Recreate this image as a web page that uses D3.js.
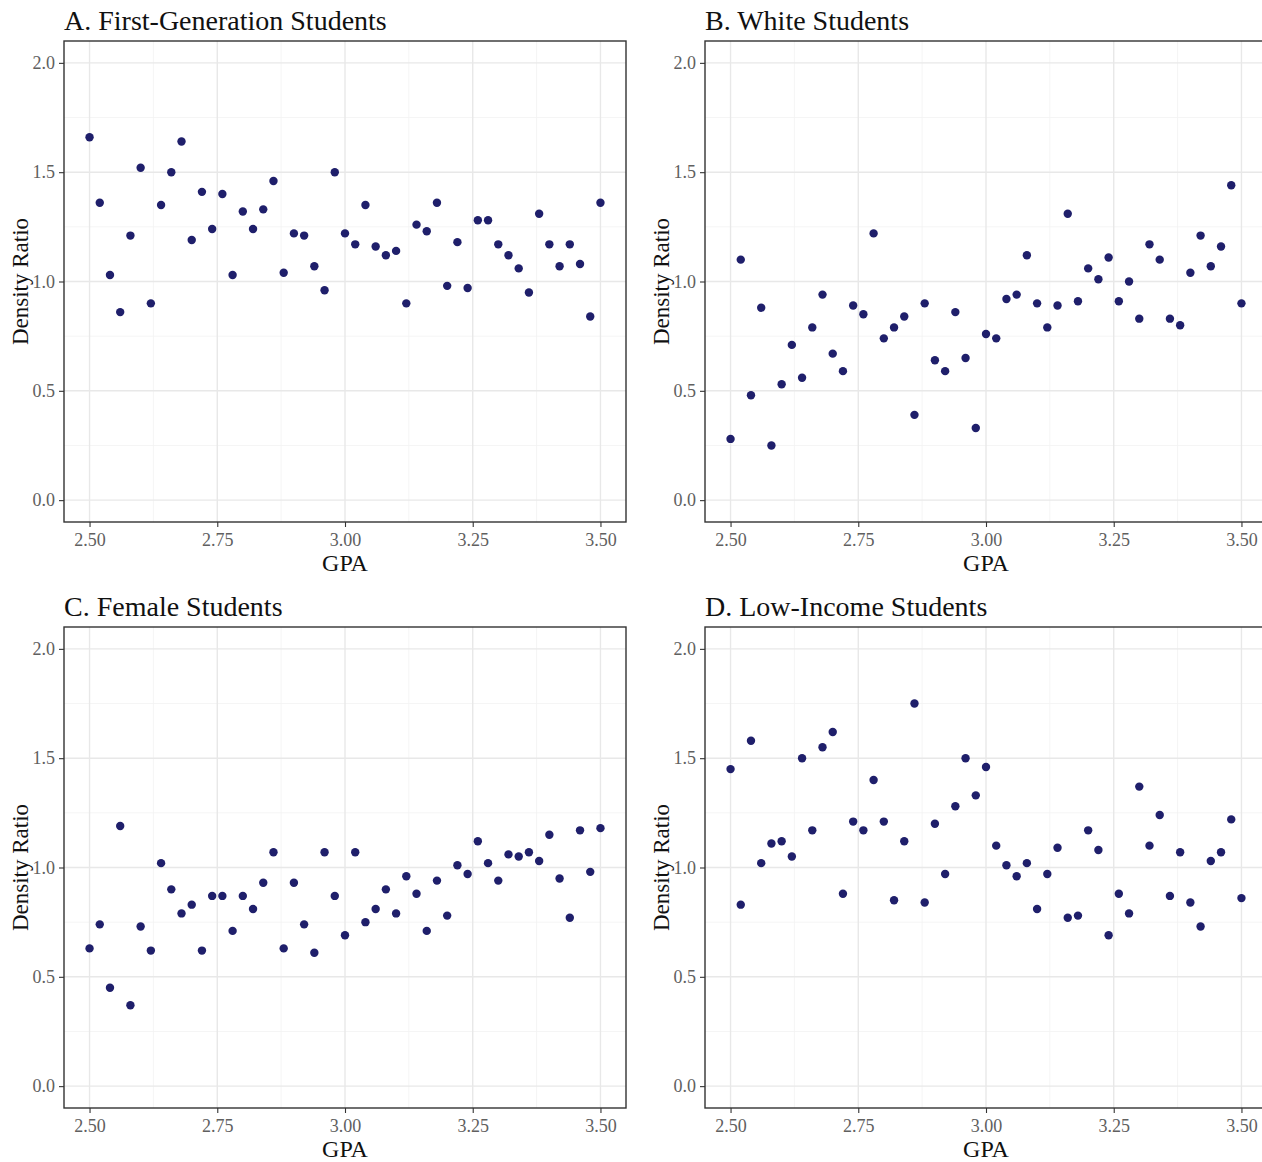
<!DOCTYPE html>
<html>
<head>
<meta charset="utf-8">
<script src="https://cdn.jsdelivr.net/npm/d3@7/dist/d3.min.js"></script>
<style>
body { margin: 0; background: #fff; }
</style>
</head>
<body>
<script>
// GPA bins (x values shared by every panel)
var gpa = [2.50, 2.52, 2.54, 2.56, 2.58, 2.60, 2.62, 2.64, 2.66, 2.68,
           2.70, 2.72, 2.74, 2.76, 2.78, 2.80, 2.82, 2.84, 2.86, 2.88,
           2.90, 2.92, 2.94, 2.96, 2.98, 3.00, 3.02, 3.04, 3.06, 3.08,
           3.10, 3.12, 3.14, 3.16, 3.18, 3.20, 3.22, 3.24, 3.26, 3.28,
           3.30, 3.32, 3.34, 3.36, 3.38, 3.40, 3.42, 3.44, 3.46, 3.48, 3.50];

var firstGen = [1.66, 1.36, 1.03, 0.86, 1.21, 1.52, 0.90, 1.35, 1.50, 1.64,
                1.19, 1.41, 1.24, 1.40, 1.03, 1.32, 1.24, 1.33, 1.46, 1.04,
                1.22, 1.21, 1.07, 0.96, 1.50, 1.22, 1.17, 1.35, 1.16, 1.12,
                1.14, 0.90, 1.26, 1.23, 1.36, 0.98, 1.18, 0.97, 1.28, 1.28,
                1.17, 1.12, 1.06, 0.95, 1.31, 1.17, 1.07, 1.17, 1.08, 0.84, 1.36];

var white = [0.28, 1.10, 0.48, 0.88, 0.25, 0.53, 0.71, 0.56, 0.79, 0.94,
             0.67, 0.59, 0.89, 0.85, 1.22, 0.74, 0.79, 0.84, 0.39, 0.90,
             0.64, 0.59, 0.86, 0.65, 0.33, 0.76, 0.74, 0.92, 0.94, 1.12,
             0.90, 0.79, 0.89, 1.31, 0.91, 1.06, 1.01, 1.11, 0.91, 1.00,
             0.83, 1.17, 1.10, 0.83, 0.80, 1.04, 1.21, 1.07, 1.16, 1.44, 0.90];

var female = [0.63, 0.74, 0.45, 1.19, 0.37, 0.73, 0.62, 1.02, 0.90, 0.79,
              0.83, 0.62, 0.87, 0.87, 0.71, 0.87, 0.81, 0.93, 1.07, 0.63,
              0.93, 0.74, 0.61, 1.07, 0.87, 0.69, 1.07, 0.75, 0.81, 0.90,
              0.79, 0.96, 0.88, 0.71, 0.94, 0.78, 1.01, 0.97, 1.12, 1.02,
              0.94, 1.06, 1.05, 1.07, 1.03, 1.15, 0.95, 0.77, 1.17, 0.98, 1.18];

var lowIncome = [1.45, 0.83, 1.58, 1.02, 1.11, 1.12, 1.05, 1.50, 1.17, 1.55,
                 1.62, 0.88, 1.21, 1.17, 1.40, 1.21, 0.85, 1.12, 1.75, 0.84,
                 1.20, 0.97, 1.28, 1.50, 1.33, 1.46, 1.10, 1.01, 0.96, 1.02,
                 0.81, 0.97, 1.09, 0.77, 0.78, 1.17, 1.08, 0.69, 0.88, 0.79,
                 1.37, 1.10, 1.24, 0.87, 1.07, 0.84, 0.73, 1.03, 1.07, 1.22, 0.86];

var titles = ["A. First-Generation Students", "B. White Students",
              "C. Female Students", "D. Low-Income Students"];
var series = [firstGen, white, female, lowIncome];

var xTicks = [2.50, 2.75, 3.00, 3.25, 3.50];
var xMinor = [2.625, 2.875, 3.125, 3.375];
var yTicks = [0.0, 0.5, 1.0, 1.5, 2.0];
var yMinor = [0.25, 0.75, 1.25, 1.75];

var W = 1262, H = 1162;
var plotW = 562, plotH = 481;
var lefts = [64, 705], tops = [41, 627];
var serif = "'Liberation Serif', 'Times New Roman', serif";

var svg = d3.select("body").append("svg")
    .attr("width", W)
    .attr("height", H)
    .style("font-family", serif);

var x = d3.scaleLinear().domain([2.45, 3.55]).range([0, plotW]);
var y = d3.scaleLinear().domain([-0.1, 2.1]).range([plotH, 0]);

series.forEach(function(vals, k) {
  var g = svg.append("g")
      .attr("transform", "translate(" + lefts[k % 2] + "," + tops[Math.floor(k / 2)] + ")");

  // minor grid
  g.selectAll(".xmin").data(xMinor).enter().append("line")
      .attr("x1", x).attr("x2", x).attr("y1", 0).attr("y2", plotH)
      .attr("stroke", "#f2f2f2").attr("stroke-width", 0.8);
  g.selectAll(".ymin").data(yMinor).enter().append("line")
      .attr("y1", y).attr("y2", y).attr("x1", 0).attr("x2", plotW)
      .attr("stroke", "#f2f2f2").attr("stroke-width", 0.8);

  // major grid
  g.selectAll(".xmaj").data(xTicks).enter().append("line")
      .attr("x1", x).attr("x2", x).attr("y1", 0).attr("y2", plotH)
      .attr("stroke", "#e8e8e8").attr("stroke-width", 1.4);
  g.selectAll(".ymaj").data(yTicks).enter().append("line")
      .attr("y1", y).attr("y2", y).attr("x1", 0).attr("x2", plotW)
      .attr("stroke", "#e8e8e8").attr("stroke-width", 1.4);

  // points
  g.selectAll("circle").data(vals).enter().append("circle")
      .attr("cx", function(d, i) { return x(gpa[i]); })
      .attr("cy", function(d) { return y(d); })
      .attr("r", 4.2)
      .attr("fill", "#1f1f6b");

  // border
  g.append("rect")
      .attr("width", plotW).attr("height", plotH)
      .attr("fill", "none").attr("stroke", "#333").attr("stroke-width", 1.4);

  // axes
  var xAxis = g.append("g").attr("transform", "translate(0," + plotH + ")")
      .call(d3.axisBottom(x).tickValues(xTicks).tickFormat(d3.format(".2f")).tickSize(5).tickPadding(6));
  var yAxis = g.append("g")
      .call(d3.axisLeft(y).tickValues(yTicks).tickFormat(d3.format(".1f")).tickSize(5).tickPadding(4));
  [xAxis, yAxis].forEach(function(a) {
    a.select(".domain").remove();
    a.selectAll(".tick line").attr("stroke", "#333").attr("stroke-width", 1.1);
    a.selectAll(".tick text")
        .attr("fill", "#606060")
        .style("font-family", serif)
        .style("font-size", "18px");
  });

  // labels
  g.append("text")
      .attr("x", 0).attr("y", -11)
      .style("font-size", "28px")
      .attr("fill", "#111")
      .text(titles[k]);

  g.append("text")
      .attr("x", plotW / 2).attr("y", plotH + 49)
      .attr("text-anchor", "middle")
      .style("font-size", "24px")
      .attr("fill", "#111")
      .text("GPA");

  g.append("text")
      .attr("transform", "translate(-36," + (plotH / 2) + ") rotate(-90)")
      .attr("text-anchor", "middle")
      .style("font-size", "23px")
      .attr("fill", "#111")
      .text("Density Ratio");
});
</script>
</body>
</html>
